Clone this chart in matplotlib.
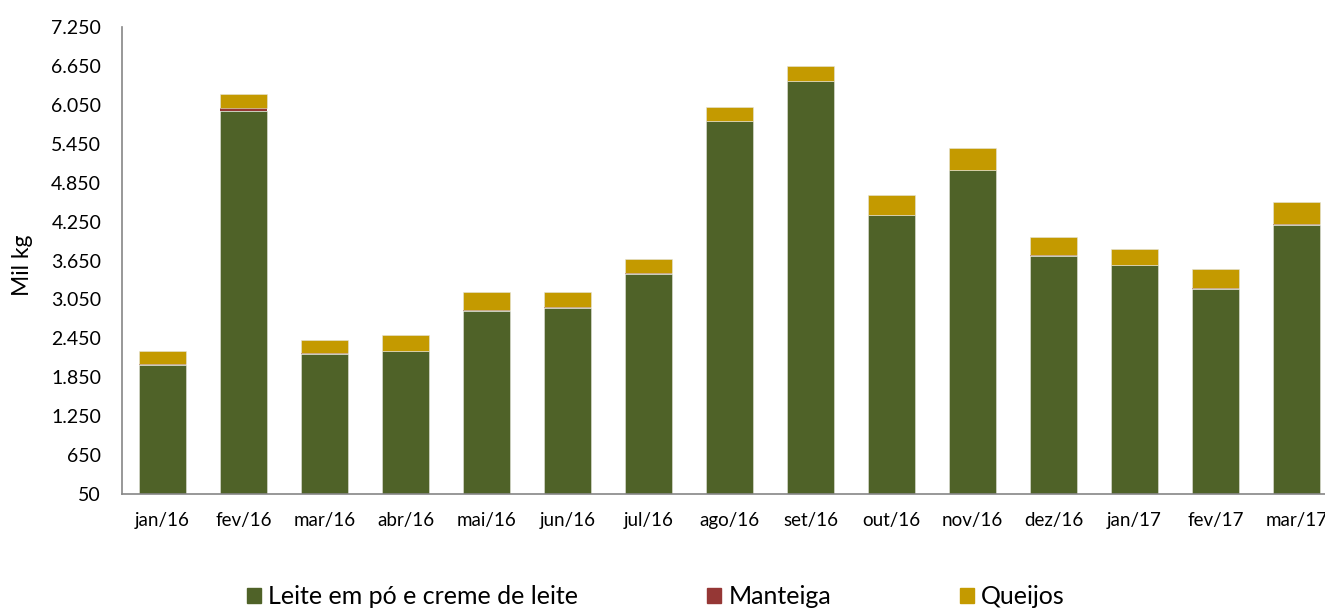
import matplotlib
matplotlib.use('Agg')
import matplotlib.pyplot as plt
from matplotlib.patches import Patch
from matplotlib.ticker import FuncFormatter
import numpy as np

months = ["jan/16", "fev/16", "mar/16", "abr/16", "mai/16", "jun/16", "jul/16",
          "ago/16", "set/16", "out/16", "nov/16", "dez/16", "jan/17", "fev/17", "mar/17"]
leite = [2032, 5957, 2213, 2249, 2878, 2924, 3449, 5798, 6411, 4350, 5045, 3727, 3578, 3217, 4201]
manteiga = [25, 37, 4, 3, 3, 3, 3, 3, 3, 3, 3, 3, 3, 3, 5]
queijos = [192, 221, 208, 244, 290, 244, 214, 208, 229, 306, 343, 286, 250, 296, 345]

colors = {"leite": "#4F6228", "manteiga": "#953735", "queijos": "#C49A00"}

plt.rcParams['font.family'] = ['Lato', 'DejaVu Sans']

fig = plt.figure(figsize=(13.25, 6.1), dpi=100)
ax = fig.add_axes([122/1325, 1 - 494/610, (1337 - 122)/1325, (494 - 27)/610])

x = np.arange(len(months))
w = 0.57
leite = np.array(leite)
manteiga = np.array(manteiga)
queijos = np.array(queijos)
edge = dict(edgecolor="#e4e4dc", linewidth=0.4)
ax.bar(x, leite, w, color=colors["leite"], **edge)
ax.bar(x, manteiga, w, bottom=leite, color=colors["manteiga"], linewidth=0)
ax.bar(x, queijos, w, bottom=leite + manteiga, color=colors["queijos"], **edge)

ax.set_xlim(-0.5, len(months) - 0.5)
ax.set_ylim(50, 7250)
ax.set_yticks(np.arange(50, 7251, 600))
ax.yaxis.set_major_formatter(FuncFormatter(lambda v, p: f"{int(v):,}".replace(",", ".")))
ax.set_xticks(x)
ax.set_xticklabels(months)
ax.tick_params(axis='both', length=0, colors="#000000")
ax.tick_params(axis='x', pad=13, labelsize=13.5)
ax.tick_params(axis='y', pad=15, labelsize=14)

for s in ["top", "right"]:
    ax.spines[s].set_visible(False)
for s in ["left", "bottom"]:
    ax.spines[s].set_color("#868686")
    ax.spines[s].set_linewidth(1.2)

ax.set_ylabel("Mil kg", fontsize=16.5)
ax.yaxis.set_label_coords(-89/1215, 0.49)

handles = [Patch(color=colors["leite"]), Patch(color=colors["manteiga"]), Patch(color=colors["queijos"])]
labels = ["Leite em pó e creme de leite", "Manteiga", "Queijos"]
fig.legend(handles, labels, loc="center", bbox_to_anchor=(656/1325, 1 - 597/610), ncol=3,
           frameon=False, fontsize=18, handlelength=0.55, handleheight=0.55,
           handletextpad=0.3, columnspacing=5.15)

fig.savefig("out.png", dpi=100)
